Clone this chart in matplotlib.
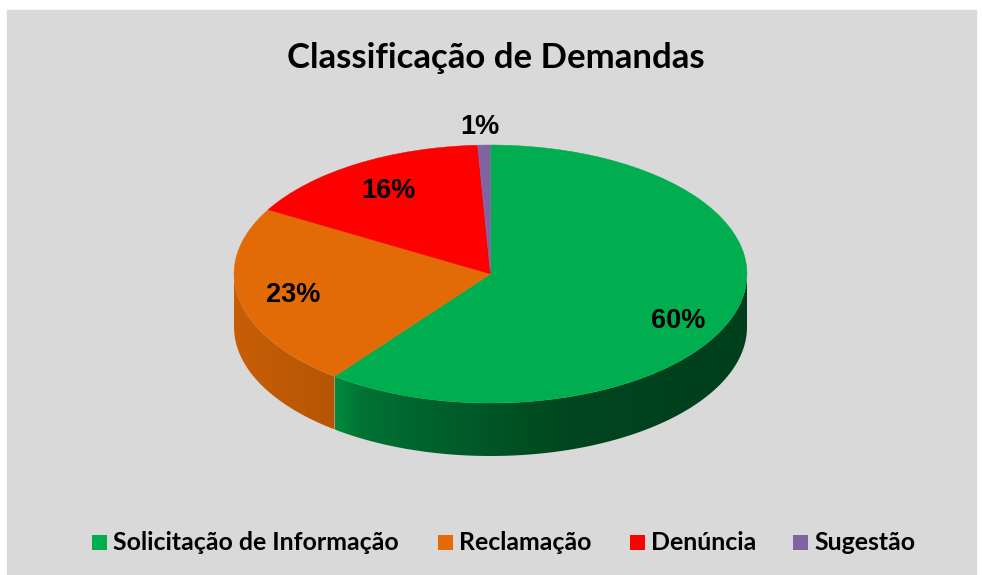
import matplotlib
matplotlib.use("Agg")
import matplotlib.pyplot as plt
import numpy as np
from matplotlib.patches import Polygon, Rectangle
from matplotlib.transforms import Affine2D

# chart data
categories = ["Solicitação de Informação", "Reclamação", "Denúncia", "Sugestão"]
shares = [60.4, 22.9, 15.9, 0.8]
pct_labels = ["60%", "23%", "16%", "1%"]
colors = ["#00AE4F", "#E26B07", "#FF0000", "#8064A2"]

# layout, in pixels of the 982x575 picture
CX, CY = 490.5, 274
RX, RY = 256.5, 129
DEPTH = 53
label_pos = [(678, 320.5), (293, 294.5), (388, 191.5), (480, 126.5)]
legend_box_x = [92, 438, 630, 793]
legend_text_x = [113, 459, 651, 814]
LEGEND_Y = 543

# shade of the pie wall, by position across the pie (-1 left, 1 right)
shade_x = [-1.0, -0.61, -0.5, -0.2, 0.3, 1.0]
shade_k = [0.88, 0.80, 0.65, 0.55, 0.40, 0.36]


fig = plt.figure(figsize=(9.82, 5.75), dpi=100)
ax = fig.add_axes([0, 0, 1, 1])

wedges, _ = ax.pie(shares, colors=colors, startangle=90, counterclock=False, radius=1)

ax.add_patch(Rectangle((7, 10), 969, 564, color="#D9D9D9", zorder=0))

# squash the flat pie into an ellipse
squash = Affine2D().scale(RX, -RY).translate(CX, CY) + ax.transData
for w in wedges:
    w.set_transform(squash)
    w.set_zorder(3)
    w.set_edgecolor(w.get_facecolor())
    w.set_linewidth(0.3)

# wall of the pie, only the front half is visible
start = 0.0
total = sum(shares)
for value, color in zip(shares, colors):
    stop = start + value / total * 360
    a0, a1 = max(start, 90), min(stop, 270)
    if a1 > a0:
        t = np.radians(np.linspace(a0, a1, 200))
        xs = CX + RX * np.sin(t)
        ys = CY - RY * np.cos(t)
        outline = np.column_stack(
            [np.r_[xs, xs[::-1]], np.r_[ys, ys[::-1] + DEPTH]]
        )
        # horizontal gradient clipped to the wall outline
        px = np.linspace(xs.min(), xs.max(), 300)
        k = np.interp((px - CX) / RX, shade_x, shade_k)
        grad = np.array(matplotlib.colors.to_rgb(color))[None, None, :] * k[None, :, None]
        im = ax.imshow(
            grad,
            extent=(xs.min(), xs.max(), ys.max() + DEPTH, ys.min()),
            aspect="auto",
            interpolation="bilinear",
            zorder=2,
        )
        im.set_clip_path(Polygon(outline, closed=True, transform=ax.transData))
    start = stop

ax.set_aspect("auto")
ax.set_xlim(0, 982)
ax.set_ylim(575, 0)
ax.axis("off")

for text, (x, y) in zip(pct_labels, label_pos):
    ax.text(
        x, y, text, ha="center", va="center", fontsize=19.5,
        fontweight="bold", family="Liberation Sans", color="black", zorder=4,
    )

ax.text(
    495.5, 57.5, "Classificação de Demandas", ha="center", va="center",
    fontsize=25, fontweight="bold", family="Lato", color="black",
)

for name, color, bx, tx in zip(categories, colors, legend_box_x, legend_text_x):
    ax.add_patch(Rectangle((bx, LEGEND_Y - 8), 15, 15, color=color, lw=0, zorder=3))
    ax.text(
        tx, LEGEND_Y, name, ha="left", va="center", fontsize=17.9,
        fontweight="bold", family="Lato", color="black",
    )

fig.savefig("out.png", dpi=100, facecolor="white")
